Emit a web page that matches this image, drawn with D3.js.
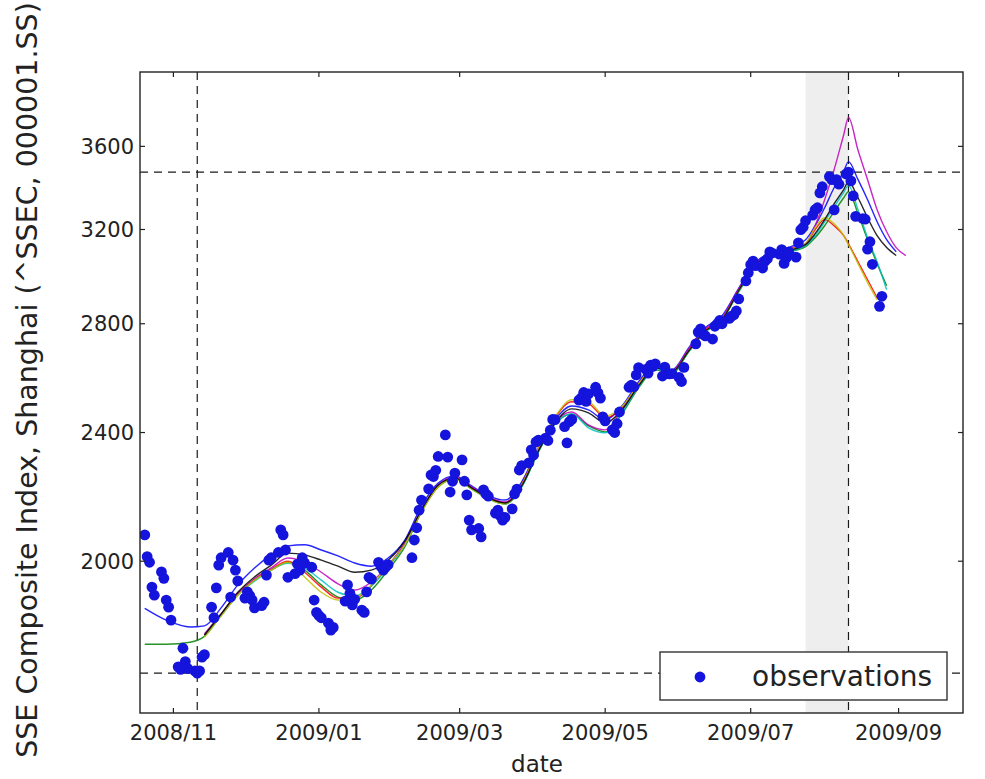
<!DOCTYPE html>
<html>
<head>
<meta charset="utf-8">
<script src="https://cdn.jsdelivr.net/npm/d3@7"></script>
<style>
  html, body { margin: 0; padding: 0; background: #ffffff; }
  svg { display: block; font-family: "DejaVu Sans", "Liberation Sans", sans-serif; }
</style>
</head>
<body>
<svg id="chart" width="985" height="779"></svg>
<script>
// ---- observations (index level per date) ----
const obsDates = [
  "2008-10-20","2008-10-21","2008-10-22","2008-10-23","2008-10-24","2008-10-27","2008-10-28","2008-10-29","2008-10-30","2008-10-31",
  "2008-11-03","2008-11-04","2008-11-05","2008-11-06","2008-11-07","2008-11-10","2008-11-11","2008-11-12","2008-11-13","2008-11-14",
  "2008-11-17","2008-11-18","2008-11-19","2008-11-20","2008-11-21","2008-11-24","2008-11-25","2008-11-26","2008-11-27","2008-11-28",
  "2008-12-01","2008-12-02","2008-12-03","2008-12-04","2008-12-05","2008-12-08","2008-12-09","2008-12-10","2008-12-11","2008-12-12",
  "2008-12-15","2008-12-16","2008-12-17","2008-12-18","2008-12-19","2008-12-22","2008-12-23","2008-12-24","2008-12-25","2008-12-26",
  "2008-12-29","2008-12-30","2008-12-31","2009-01-01","2009-01-02","2009-01-05","2009-01-06","2009-01-07","2009-01-12","2009-01-13",
  "2009-01-14","2009-01-15","2009-01-16","2009-01-19","2009-01-20","2009-01-21","2009-01-22","2009-01-23","2009-01-26","2009-01-27",
  "2009-01-28","2009-01-29","2009-01-30","2009-02-09","2009-02-10","2009-02-11","2009-02-12","2009-02-13","2009-02-16","2009-02-17",
  "2009-02-18","2009-02-19","2009-02-20","2009-02-23","2009-02-24","2009-02-25","2009-02-26","2009-02-27","2009-03-02","2009-03-03",
  "2009-03-04","2009-03-05","2009-03-06","2009-03-09","2009-03-10","2009-03-11","2009-03-12","2009-03-13","2009-03-16","2009-03-17",
  "2009-03-18","2009-03-19","2009-03-20","2009-03-23","2009-03-24","2009-03-25","2009-03-26","2009-03-27","2009-03-30","2009-03-31",
  "2009-04-01","2009-04-02","2009-04-03","2009-04-06","2009-04-07","2009-04-08","2009-04-09","2009-04-10","2009-04-14","2009-04-15",
  "2009-04-16","2009-04-17","2009-04-20","2009-04-21","2009-04-22","2009-04-23","2009-04-24","2009-04-27","2009-04-28","2009-04-29",
  "2009-04-30","2009-05-01","2009-05-04","2009-05-05","2009-05-06","2009-05-07","2009-05-11","2009-05-12","2009-05-13","2009-05-14",
  "2009-05-15","2009-05-18","2009-05-19","2009-05-20","2009-05-21","2009-05-22","2009-05-25","2009-05-26","2009-05-27","2009-05-28",
  "2009-05-29","2009-06-01","2009-06-02","2009-06-03","2009-06-08","2009-06-09","2009-06-10","2009-06-11","2009-06-12","2009-06-15",
  "2009-06-16","2009-06-17","2009-06-18","2009-06-19","2009-06-22","2009-06-23","2009-06-24","2009-06-25","2009-06-26","2009-06-29",
  "2009-06-30","2009-07-01","2009-07-02","2009-07-03","2009-07-06","2009-07-07","2009-07-08","2009-07-09","2009-07-10","2009-07-13",
  "2009-07-14","2009-07-15","2009-07-16","2009-07-17","2009-07-20","2009-07-21","2009-07-22","2009-07-23","2009-07-24","2009-07-27",
  "2009-07-28","2009-07-29","2009-07-30","2009-07-31","2009-08-03","2009-08-04","2009-08-05","2009-08-06","2009-08-07","2009-08-10",
  "2009-08-11","2009-08-12","2009-08-13","2009-08-14","2009-08-17","2009-08-18","2009-08-19","2009-08-20","2009-08-21","2009-08-24",
  "2009-08-25"
];
const obsValues = [
  2076,2013,1997,1928,1906,1970,1952,1893,1874,1840,
  1722,1716,1768,1735,1718,1712,1706.7,1712,1746,1752,
  1874,1846,1926,1989,2010,2025,1901,2003,1975,1945,
  1898,1915,1905,1893,1872,1878,1887,1961,2003,2010,
  2025,2091,2076,2032,1955,1965,1992,1975,2010,1995,
  1983,1893,1860,1852,1846,1832,1814,1821,1890,1934,
  1911,1880,1895,1866,1860,1915,1955,1950,1997,1985,
  1975,1983,1990,2010,2061,2097,2150,2181,2216,2260,
  2255,2275,2320,2392,2318,2206,2240,2266,2309,2240,
  2197,2120,2091,2095,2070,2213,2200,2193,2141,2150,
  2133,2120,2128,2154,2200,2215,2276,2290,2299,2342,
  2325,2368,2374,2381,2373,2408,2445,2444,2420,2365,
  2437,2445,2513,2521,2540,2508,2535,2559,2539,2520,
  2454,2440,2409,2400,2430,2471,2559,2567,2561,2604,
  2631,2625,2611,2640,2636,2645,2600,2633,2610,2608,
  2609,2595,2580,2632,2721,2767,2780,2759,2752,2740,
  2790,2800,2813,2800,2821,2830,2836,2851,2900,2975,
  3010,3045,3060,3040,3030,3060,3070,3100,3095,3090,
  3110,3050,3075,3100,3077,3140,3199,3210,3240,3266,
  3291,3300,3370,3400,3449,3434,3290,3434,3412,3462,
  3471.4,3428,3356,3260,3250,3247,3112,3145,3046,2870,
  2911
];

// ---- model curves, sampled on common knot dates (null = not drawn) ----
const knotDates = [
  "2008-10-20","2008-10-29","2008-11-08","2008-11-14","2008-11-21","2008-11-28","2008-12-05","2008-12-12","2008-12-19","2008-12-26",
  "2009-01-02","2009-01-09","2009-01-16","2009-01-23","2009-01-30","2009-02-06","2009-02-13","2009-02-20","2009-02-27","2009-03-06",
  "2009-03-13","2009-03-20","2009-03-27","2009-04-03","2009-04-10","2009-04-17","2009-04-24","2009-05-01","2009-05-08","2009-05-15",
  "2009-05-22","2009-05-29","2009-06-05","2009-06-12","2009-06-19","2009-06-26","2009-07-03","2009-07-10","2009-07-17","2009-07-24",
  "2009-07-28","2009-08-01","2009-08-05","2009-08-09","2009-08-11","2009-08-15","2009-08-19","2009-08-23","2009-08-27","2009-08-31",
  "2009-09-04"
];
const curveBlue = [
  1871,1840,1822,1825,1872,1934,1981,2018,2044,2047,
  2032,2015,1995,1986,2009,2061,2163,2234,2257,2225,
  2194,2181,2238,2348,2444,2492,2478,2444,2492,2579,
  2642,2623,2706,2784,2832,2945,3055,3095,3120,3154,
  3217,3300,3396,3474,3523,3434,3338,3235,3154,3101,
  null
];
const curveGreen = [
  1778,1778,1783,1798,1853,1909,1947,1975,1997,1975,
  1934,1901,1893,1920,1975,2041,2145,2222,2247,2216,
  2185,2169,2222,2335,2430,2464,2423,2402,2464,2557,
  2623,2609,2691,2768,2816,2930,3035,3080,3100,3123,
  3163,3217,3282,3347,3376,3272,3154,3049,2955,null,
  null
];
const curveRed = [
  null,null,null,1801,1853,1909,1950,1978,2000,1969,
  1928,1898,1898,1931,1986,2050,2148,2225,2250,2219,
  2188,2172,2231,2348,2451,2507,2500,2451,2485,2571,
  2638,2619,2698,2776,2820,2938,3045,3090,3112,3136,
  3199,3245,3217,3172,3136,3057,2980,2905,null,null,
  null
];
const curveCyan = [
  null,null,null,1798,1851,1906,1944,1975,1994,1981,
  1947,1914,1904,1931,1983,2047,2148,2225,2247,2216,
  2185,2169,2222,2335,2430,2464,2416,2399,2468,2561,
  2627,2612,2691,2768,2816,2930,3038,3082,3102,3127,
  3172,3235,3305,3372,3405,3291,3163,3057,2938,null,
  null
];
const curveMagenta = [
  null,null,null,1804,1856,1911,1950,1981,2009,1997,
  1969,1937,1920,1942,1989,2052,2151,2228,2254,2222,
  2191,2175,2228,2342,2437,2471,2426,2409,2478,2568,
  2635,2619,2702,2780,2824,2942,3050,3092,3115,3136,
  3217,3338,3484,3660,3750,3580,3434,3291,3190,3119,
  3084
];
const curveYellow = [
  null,null,null,1796,1851,1906,1947,1975,1997,1956,
  1914,1893,1898,1934,1989,2047,2145,2222,2247,2216,
  2185,2169,2228,2348,2454,2514,2507,2457,2489,2571,
  2635,2616,2694,2772,2816,2935,3042,3088,3110,3136,
  3208,3254,3226,3172,3132,3049,2968,2897,null,null,
  null
];
const curveBlack = [
  null,null,null,1801,1856,1914,1956,1989,2023,2018,
  2003,1986,1969,1975,2003,2058,2151,2228,2250,2219,
  2188,2172,2225,2338,2433,2482,2468,2433,2478,2564,
  2631,2616,2694,2772,2816,2935,3044,3086,3106,3132,
  3181,3245,3319,3386,3424,3347,3254,3172,3119,3084,
  null
];
const curveColors = ["#0000ff", "#008000", "#ff0000", "#00bfbf", "#bf00bf", "#bfbf00", "#000000"];

// ---- axis ticks and labels ----
const xTickDates = ["2008-11-01","2009-01-01","2009-03-01","2009-05-01","2009-07-01","2009-09-01"];
const yTickValues = [2000, 2400, 2800, 3200, 3600];
const forecastStart = "2009-07-24";
const xTitle = "date";
const yTitle = "SSE Composite Index, Shanghai (^SSEC, 000001.SS)";
const legendLabel = "observations";

// ---- drawing ----
const parse = d3.utcParse("%Y-%m-%d");
const fmt = d3.utcFormat("%Y/%m");
const svg = d3.select("#chart");
const plot = { left: 140, right: 963, top: 72, bottom: 713 };

const x = d3.scaleUtc()
  .domain([parse("2008-10-18"), parse("2009-09-28")])
  .range([plot.left, plot.right]);
const y = d3.scaleLog()
  .domain([1613, 4000])
  .range([plot.bottom, plot.top]);

const obs = obsDates.map((d, i) => ({ date: parse(d), value: obsValues[i] }));
const minObs = obs.reduce((a, b) => (b.value < a.value ? b : a));
const maxObs = obs.reduce((a, b) => (b.value > a.value ? b : a));

svg.append("defs").append("clipPath").attr("id", "clip")
  .append("rect")
  .attr("x", plot.left).attr("y", plot.top)
  .attr("width", plot.right - plot.left).attr("height", plot.bottom - plot.top);

const g = svg.append("g").attr("clip-path", "url(#clip)");

// shaded span from forecast start to the observed peak
g.append("rect")
  .attr("x", x(parse(forecastStart)))
  .attr("y", plot.top)
  .attr("width", x(maxObs.date) - x(parse(forecastStart)))
  .attr("height", plot.bottom - plot.top)
  .attr("fill", "#d9d9d9")
  .attr("opacity", 0.45);

// reference lines through the minimum and maximum observation
const dash = "8,6";
[minObs, maxObs].forEach(p => {
  g.append("line")
    .attr("x1", plot.left).attr("x2", plot.right)
    .attr("y1", y(p.value)).attr("y2", y(p.value))
    .attr("stroke", "#1a1a1a").attr("stroke-width", 1.2).attr("stroke-dasharray", dash);
  g.append("line")
    .attr("x1", x(p.date)).attr("x2", x(p.date))
    .attr("y1", plot.top).attr("y2", plot.bottom)
    .attr("stroke", "#1a1a1a").attr("stroke-width", 1.2).attr("stroke-dasharray", dash);
});

// model curves
const curves = [curveBlue, curveGreen, curveRed, curveCyan, curveMagenta, curveYellow, curveBlack];
const line = d3.line()
  .defined(d => d.value != null)
  .x(d => x(d.date))
  .y(d => y(d.value))
  .curve(d3.curveMonotoneX);
curves.forEach((vals, i) => {
  const pts = knotDates.map((d, j) => ({ date: parse(d), value: vals[j] }));
  g.append("path")
    .datum(pts)
    .attr("d", line)
    .attr("fill", "none")
    .attr("stroke", curveColors[i])
    .attr("stroke-width", 1.4)
    .attr("stroke-opacity", 0.85);
});

// observation markers
g.selectAll("circle.obs")
  .data(obs)
  .join("circle")
  .attr("class", "obs")
  .attr("cx", d => x(d.date))
  .attr("cy", d => y(d.value))
  .attr("r", 5.4)
  .attr("fill", "#1414dc");

// frame
svg.append("rect")
  .attr("x", plot.left).attr("y", plot.top)
  .attr("width", plot.right - plot.left).attr("height", plot.bottom - plot.top)
  .attr("fill", "none").attr("stroke", "#222").attr("stroke-width", 1.4);

// inward tick marks on all four sides
const tickLen = 5;
const ticks = svg.append("g").attr("stroke", "#222").attr("stroke-width", 1.2);
xTickDates.forEach(d => {
  const px = x(parse(d));
  ticks.append("line").attr("x1", px).attr("x2", px).attr("y1", plot.bottom).attr("y2", plot.bottom - tickLen);
  ticks.append("line").attr("x1", px).attr("x2", px).attr("y1", plot.top).attr("y2", plot.top + tickLen);
});
yTickValues.forEach(v => {
  const py = y(v);
  ticks.append("line").attr("x1", plot.left).attr("x2", plot.left + tickLen).attr("y1", py).attr("y2", py);
  ticks.append("line").attr("x1", plot.right).attr("x2", plot.right - tickLen).attr("y1", py).attr("y2", py);
});

// tick labels
const tickFont = 21;
svg.append("g").selectAll("text")
  .data(xTickDates)
  .join("text")
  .attr("x", d => x(parse(d)))
  .attr("y", plot.bottom + 27)
  .attr("text-anchor", "middle")
  .attr("font-size", tickFont)
  .attr("fill", "#222")
  .text(d => fmt(parse(d)));
svg.append("g").selectAll("text")
  .data(yTickValues)
  .join("text")
  .attr("x", plot.left - 6)
  .attr("y", d => y(d))
  .attr("dy", "0.36em")
  .attr("text-anchor", "end")
  .attr("font-size", tickFont)
  .attr("fill", "#222")
  .text(d => d);

// axis titles
svg.append("text")
  .attr("x", 537).attr("y", 772)
  .attr("text-anchor", "middle")
  .attr("font-size", 23)
  .attr("fill", "#222")
  .text(xTitle);
svg.append("text")
  .attr("transform", "translate(37,380) rotate(-90)")
  .attr("text-anchor", "middle")
  .attr("font-size", 28.5)
  .attr("fill", "#222")
  .text(yTitle);

// legend
const lg = svg.append("g");
lg.append("rect")
  .attr("x", 660).attr("y", 652).attr("width", 287).attr("height", 48)
  .attr("fill", "#fff").attr("stroke", "#333").attr("stroke-width", 1.4);
lg.append("circle").attr("cx", 700).attr("cy", 677).attr("r", 5.4).attr("fill", "#1414dc");
lg.append("text")
  .attr("x", 752).attr("y", 686)
  .attr("font-size", 28)
  .attr("fill", "#222")
  .text(legendLabel);
</script>
</body>
</html>
